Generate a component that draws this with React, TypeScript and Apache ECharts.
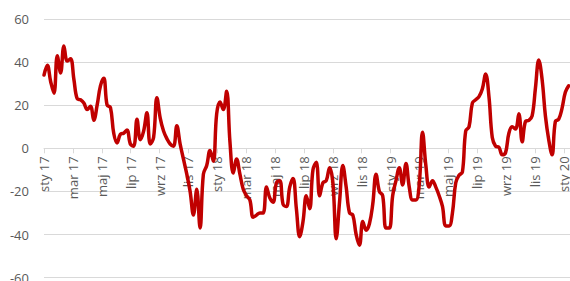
import React, { useEffect, useRef } from 'react';
import * as echarts from 'echarts';

// X-axis tick labels (every second month, starting January 2017)
const tickLabels = [
  'sty 17', 'mar 17', 'maj 17', 'lip 17', 'wrz 17', 'lis 17',
  'sty 18', 'mar 18', 'maj 18', 'lip 18', 'wrz 18', 'lis 18',
  'sty 19', 'mar 19', 'maj 19', 'lip 19', 'wrz 19', 'lis 19',
  'sty 20',
];

// Weekly values, starting first week of January 2017
const values2017 = [
  34, 38.5, 31, 25.5, 43, 35, 47.5, 40.5, 41.5, 32, 23, 22.5, 21, 18, 19.5, 13,
  20, 29, 32.5, 20, 19, 7, 2.5, 6.5, 7, 8.5, 2, 1, 13.5, 4, 8, 16.5, 2, 5, 23.5,
  14, 8, 4.5, 2, 1, 10.5, 2, -5, -12, -20, -31, -19, -37, -12, -8, -1, -6,
];
const values2018 = [
  16, 21.5, 18, 26.5, 3, -11.5, -5, -12, -19, -22, -24, -32, -31, -30, -30, -18,
  -23, -25, -16, -15, -26, -27, -18, -14, -28, -41, -34, -22, -28, -10, -6.5, -22,
  -16, -15, -9, -16, -42, -25, -8, -18, -30, -31, -40, -45, -34, -38, -35, -26,
  -12, -20, -22, -37,
];
const values2019 = [
  -37, -22, -15, -9, -17, -7, -18, -24, -24, -17, 7.5, -8, -18, -15, -18, -22,
  -27, -36, -36, -30, -16, -12.5, -11, 8, 10, 21, 22.5, 24, 27.5, 34.5, 24, 5,
  1, 0.5, -3, -2, 7, 10, 9, 16, 3, 12.5, 13, 15, 28, 41, 32, 15, 4, -3, 12.5,
  13.5, 18.5, 26, 29,
];
const weeklyValues = [...values2017, ...values2018, ...values2019];

const yTicks = { min: -60, max: 60, interval: 20 };
const WEEK_IN_MONTHS = 7 / 30.4375;

const GRID_TOP = 19;
const GRID_BOTTOM = 3.4;
const CHART_H = 281;

export default function App() {
  const ref = useRef<HTMLDivElement>(null);

  useEffect(() => {
    if (!ref.current) return;
    const chart = echarts.init(ref.current, undefined, { renderer: 'svg' });
    const labelColor = '#595959';
    const gridColor = '#d9d9d9';
    const font = '"Open Sans", "Liberation Sans", sans-serif';
    const gridH = CHART_H - GRID_TOP - GRID_BOTTOM;
    // distance from the grid bottom up to the zero line
    const zeroOffset = (gridH * (0 - yTicks.min)) / (yTicks.max - yTicks.min);
    chart.setOption({
      animation: false,
      grid: {
        left: 44,
        right: 0,
        top: GRID_TOP,
        bottom: GRID_BOTTOM,
        containLabel: false,
        outerBoundsMode: 'none',
      },
      xAxis: {
        type: 'value',
        position: 'bottom',
        offset: -zeroOffset,
        min: 0,
        max: 36.43,
        interval: 2,
        axisLine: { onZero: false, lineStyle: { color: gridColor, width: 1 } },
        axisTick: { show: true, length: 5, lineStyle: { color: gridColor } },
        splitLine: { show: false },
        axisLabel: {
          rotate: 90,
          margin: 8,
          color: labelColor,
          fontSize: 13,
          fontFamily: font,
          showMaxLabel: false,
          hideOverlap: false,
          formatter: (v: number) => {
            const k = Math.round(v / 2);
            if (Math.abs(v - k * 2) > 1e-6) return '';
            return tickLabels[k] ?? '';
          },
        },
      },
      yAxis: {
        type: 'value',
        min: yTicks.min,
        max: yTicks.max,
        interval: yTicks.interval,
        axisLine: { show: false },
        axisTick: { show: false },
        splitLine: { lineStyle: { color: gridColor, width: 1 } },
        axisLabel: {
          color: labelColor,
          fontSize: 13,
          fontFamily: font,
          margin: 15,
        },
      },
      series: [
        {
          type: 'line',
          data: weeklyValues.map((v, i) => [i * WEEK_IN_MONTHS, v]),
          showSymbol: false,
          smooth: 0.4,
          lineStyle: { color: '#c00000', width: 3.5, cap: 'round', join: 'round' },
          itemStyle: { color: '#c00000' },
        },
      ],
    });
    return () => chart.dispose();
  }, []);

  return (
    <div
      ref={ref}
      style={{ position: 'fixed', left: 0, top: 0, width: 570, height: 281, background: '#fff' }}
    />
  );
}
